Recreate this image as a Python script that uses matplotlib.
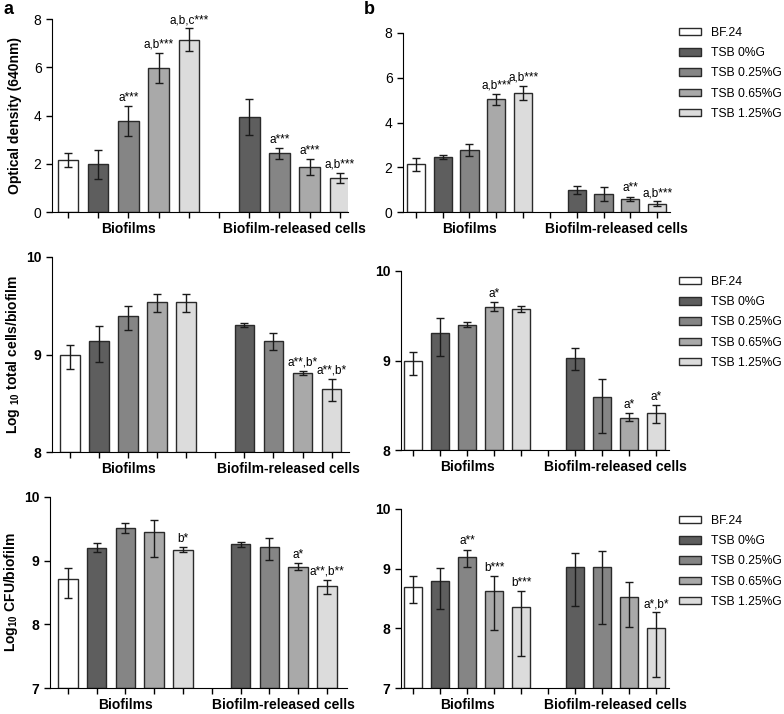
import numpy as np
import matplotlib
matplotlib.use("Agg")
import matplotlib.pyplot as plt

plt.rcParams["font.family"] = ["Liberation Sans", "DejaVu Sans"]
plt.rcParams["mathtext.fontset"] = "custom"
plt.rcParams["mathtext.rm"] = "Liberation Sans"
plt.rcParams["mathtext.it"] = "Liberation Sans:italic"
plt.rcParams["mathtext.bf"] = "Liberation Sans:bold"

# series and groups
series = ["BF.24", "TSB 0%G", "TSB 0.25%G", "TSB 0.65%G", "TSB 1.25%G"]
groups = ["Biofilms", "Biofilm-released cells"]

# optical density, panel a
od_a_bio = [2.15, 1.97, 3.77, 5.98, 7.15]
od_a_bio_err = [0.30, 0.60, 0.64, 0.63, 0.47]
od_a_rel = [3.95, 2.43, 1.87, 1.41]
od_a_rel_err = [0.75, 0.24, 0.33, 0.22]
od_a_notes = ["", "", "a***", "a,b***", "a,b,c***", "", "a***", "a***", "a,b***"]

# optical density, panel b
od_b_bio = [2.13, 2.47, 2.78, 5.03, 5.33]
od_b_bio_err = [0.30, 0.09, 0.27, 0.25, 0.31]
od_b_rel = [0.97, 0.82, 0.60, 0.37]
od_b_rel_err = [0.18, 0.31, 0.09, 0.11]
od_b_notes = ["", "", "", "a,b***", "a,b***", "", "", "a**", "a,b***"]

# log10 total cells, panel a
tot_a_bio = [8.99, 9.14, 9.40, 9.54, 9.54]
tot_a_bio_hi = [0.11, 0.15, 0.10, 0.08, 0.08]
tot_a_bio_lo = [0.14, 0.22, 0.15, 0.10, 0.10]
tot_a_rel = [9.30, 9.14, 8.81, 8.645]
tot_a_rel_hi = [0.02, 0.08, 0.02, 0.105]
tot_a_rel_lo = [0.02, 0.09, 0.02, 0.12]
tot_a_notes = ["", "", "", "", "", "", "", "a**,b*", "a**,b*"]

# log10 total cells, panel b
tot_b_bio = [8.99, 9.31, 9.40, 9.60, 9.58]
tot_b_bio_hi = [0.11, 0.16, 0.03, 0.05, 0.03]
tot_b_bio_lo = [0.15, 0.26, 0.03, 0.05, 0.04]
tot_b_rel = [9.03, 8.59, 8.36, 8.41]
tot_b_rel_hi = [0.11, 0.20, 0.05, 0.09]
tot_b_rel_lo = [0.14, 0.40, 0.04, 0.11]
tot_b_notes = ["", "", "", "a*", "", "", "", "a*", "a*"]

# log10 CFU, panel a
cfu_a_bio = [8.71, 9.20, 9.52, 9.445, 9.17]
cfu_a_bio_hi = [0.17, 0.07, 0.07, 0.20, 0.04]
cfu_a_bio_lo = [0.29, 0.07, 0.08, 0.38, 0.04]
cfu_a_rel = [9.26, 9.21, 8.90, 8.60]
cfu_a_rel_hi = [0.04, 0.14, 0.06, 0.10]
cfu_a_rel_lo = [0.05, 0.20, 0.05, 0.12]
cfu_a_notes = ["", "", "", "", "b*", "", "", "a*", "a**,b**"]

# log10 CFU, panel b
cfu_b_bio = [8.70, 8.80, 9.20, 8.63, 8.36]
cfu_b_bio_hi = [0.18, 0.21, 0.12, 0.24, 0.27]
cfu_b_bio_lo = [0.28, 0.48, 0.17, 0.65, 0.82]
cfu_b_rel = [9.02, 9.02, 8.53, 8.01]
cfu_b_rel_hi = [0.25, 0.28, 0.24, 0.26]
cfu_b_rel_lo = [0.65, 0.95, 0.50, 0.83]
cfu_b_notes = ["", "", "a**", "b***", "b***", "", "", "", "a*,b*"]

colors = ["#ffffff", "#5e5e5e", "#858585", "#a9a9a9", "#dcdcdc"]
W, H = 784, 714


def px_axes(fig, left, top, right, bottom):
    return fig.add_axes([left / W, 1 - bottom / H, (right - left) / W, (bottom - top) / H])


def draw_panel(ax, bio, rel, hi, lo, notes, ylim, yticks, xlim, bold_ticks):
    pos = list(range(5)) + list(range(6, 10))
    vals = bio + rel
    cols = colors + colors[1:]
    ax.bar(pos, np.array(vals) - ylim[0], bottom=ylim[0], width=0.68, color=cols,
           edgecolor="#2a2a2a", linewidth=1, zorder=2)
    ax.errorbar(pos, vals, yerr=[lo, hi], fmt="none", ecolor="#1a1a1a",
                elinewidth=1, capsize=3.2, capthick=1, zorder=3)
    for p, v, h, n in zip(pos, vals, hi, notes):
        if n:
            ax.annotate(n, (p, v + h), xytext=(0, 1.5), textcoords="offset points",
                        ha="center", va="bottom", fontsize=8.5)
    ax.set_xlim(*xlim)
    ax.set_ylim(*ylim)
    ax.set_yticks(yticks)
    ax.set_yticklabels([str(t) for t in yticks], fontsize=10,
                       fontweight="bold" if bold_ticks else "normal")
    ax.set_xticks(range(10))
    ax.set_xticklabels([])
    for s in ["top", "right"]:
        ax.spines[s].set_visible(False)
    ax.spines["left"].set_bounds(ylim[0], ylim[1])
    ax.tick_params(direction="out", length=4, width=1)
    for x, g in zip([2, 7.5], groups):
        ax.annotate(g, (x, 0), xycoords=("data", "axes fraction"), xytext=(0, -12.5),
                    textcoords="offset points", ha="center", va="center",
                    fontsize=10, fontweight="bold", annotation_clip=False)


def add_legend(fig, top_px):
    handles = [plt.Rectangle((0, 0), 1, 1, facecolor=c, edgecolor="#2a2a2a", linewidth=1)
               for c in colors]
    fig.legend(handles, series, loc="upper left", bbox_to_anchor=(679 / W, 1 - top_px / H),
               frameon=False, fontsize=8.7, borderpad=0, borderaxespad=0,
               handlelength=1.8, handleheight=0.58, handletextpad=0.85, labelspacing=0.68)


fig = plt.figure(figsize=(W / 100, H / 100), dpi=100)

ax = px_axes(fig, 52, 19, 348, 212)
draw_panel(ax, od_a_bio, od_a_rel, od_a_bio_err + od_a_rel_err, od_a_bio_err + od_a_rel_err,
           od_a_notes, (0, 8), [0, 2, 4, 6, 8], (-0.53, 9.27), False)
ax.set_ylabel("Optical density (640nm)", fontsize=10, fontweight="bold")
ax.yaxis.set_label_coords(-0.103, 0.5)

ax = px_axes(fig, 403, 33, 670, 212)
draw_panel(ax, od_b_bio, od_b_rel, od_b_bio_err + od_b_rel_err, od_b_bio_err + od_b_rel_err,
           od_b_notes, (0, 8), [0, 2, 4, 6, 8], (-0.48, 9.48), False)

ax = px_axes(fig, 52, 257, 349, 452)
draw_panel(ax, tot_a_bio, tot_a_rel, tot_a_bio_hi + tot_a_rel_hi, tot_a_bio_lo + tot_a_rel_lo,
           tot_a_notes, (8, 10), [8, 9, 10], (-0.62, 9.6), True)
ax.set_ylabel(r"Log $_{\mathbf{10}}$ total cells/biofilm", fontsize=10, fontweight="bold")
ax.yaxis.set_label_coords(-0.1, 0.5)

ax = px_axes(fig, 401, 271, 669, 450)
draw_panel(ax, tot_b_bio, tot_b_rel, tot_b_bio_hi + tot_b_rel_hi, tot_b_bio_lo + tot_b_rel_lo,
           tot_b_notes, (8, 10), [8, 9, 10], (-0.45, 9.48), True)

ax = px_axes(fig, 50, 497, 347, 688)
draw_panel(ax, cfu_a_bio, cfu_a_rel, cfu_a_bio_hi + cfu_a_rel_hi, cfu_a_bio_lo + cfu_a_rel_lo,
           cfu_a_notes, (7, 10), [7, 8, 9, 10], (-0.62, 9.7), True)
ax.set_ylabel(r"Log$_{\mathbf{10}}$ CFU/biofilm", fontsize=10, fontweight="bold")
ax.yaxis.set_label_coords(-0.1, 0.5)

ax = px_axes(fig, 401, 509, 669, 688)
draw_panel(ax, cfu_b_bio, cfu_b_rel, cfu_b_bio_hi + cfu_b_rel_hi, cfu_b_bio_lo + cfu_b_rel_lo,
           cfu_b_notes, (7, 10), [7, 8, 9, 10], (-0.45, 9.48), True)

add_legend(fig, 27)
add_legend(fig, 276)
add_legend(fig, 515)

fig.text(4 / W, 1 - 1 / H, "a", fontsize=13, fontweight="bold", va="top")
fig.text(364 / W, 1 - 1 / H, "b", fontsize=13, fontweight="bold", va="top")

fig.savefig("out.png", dpi=100)
